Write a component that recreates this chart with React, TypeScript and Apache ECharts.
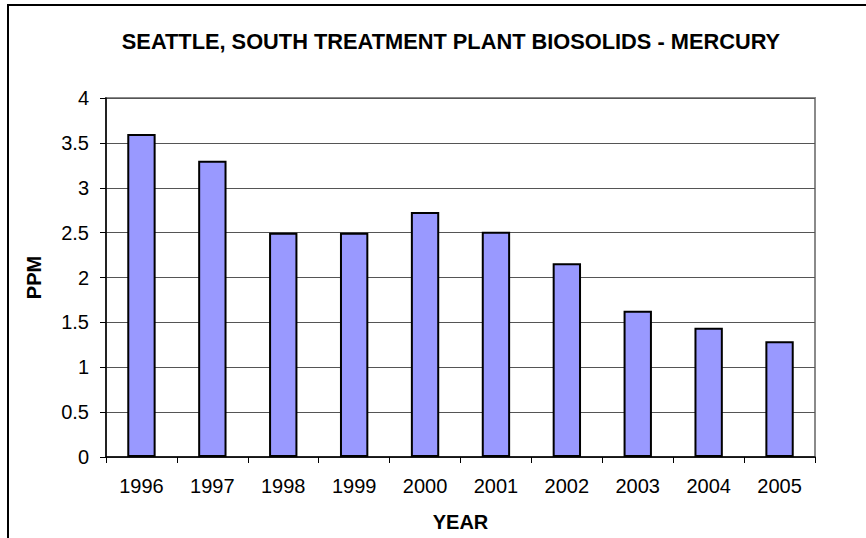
import React, { useEffect, useRef } from "react";
import * as echarts from "echarts";

const years = ["1996", "1997", "1998", "1999", "2000", "2001", "2002", "2003", "2004", "2005"];
const mercuryPpm = [3.6, 3.3, 2.5, 2.5, 2.73, 2.51, 2.16, 1.63, 1.44, 1.29];
const yTicks = { min: 0, max: 4, interval: 0.5 };

const FONT = "'Liberation Sans', Arial, sans-serif";

export default function App() {
  const ref = useRef<HTMLDivElement>(null);
  useEffect(() => {
    if (!ref.current) return;
    const chart = echarts.init(ref.current, null, { renderer: "svg" });
    chart.setOption({
      animation: false,
      backgroundColor: "#ffffff",
      textStyle: { fontFamily: FONT },
      title: {
        text: "SEATTLE, SOUTH TREATMENT PLANT BIOSOLIDS - MERCURY",
        left: 446,
        top: 25,
        textAlign: "center",
        textStyle: { fontFamily: FONT, fontSize: 21.8, fontWeight: "bold", color: "#000" },
      },
      grid: {
        left: 106,
        top: 98,
        width: 709,
        height: 359,
        show: true,
        borderColor: "#8a8a8a",
        borderWidth: 2,
        backgroundColor: "#ffffff",
      },
      xAxis: {
        type: "category",
        data: years,
        name: "YEAR",
        nameLocation: "middle",
        nameGap: 55,
        nameTextStyle: { fontFamily: FONT, fontSize: 20, fontWeight: "bold", color: "#000" },
        axisLine: { lineStyle: { color: "#000", width: 1.5 } },
        axisTick: { show: true, length: 6, lineStyle: { color: "#000" } },
        axisLabel: { fontFamily: FONT, fontSize: 20, color: "#000", margin: 19 },
      },
      yAxis: {
        type: "value",
        min: yTicks.min,
        max: yTicks.max,
        interval: yTicks.interval,
        name: "PPM",
        nameLocation: "middle",
        nameGap: 62,
        nameRotate: 90,
        nameTextStyle: { fontFamily: FONT, fontSize: 20, fontWeight: "bold", color: "#000" },
        axisLine: { show: true, lineStyle: { color: "#000", width: 1.5 } },
        axisTick: { show: true, length: 6, lineStyle: { color: "#000" } },
        axisLabel: { fontFamily: FONT, fontSize: 20, color: "#000", margin: 17 },
        splitLine: { show: true, lineStyle: { color: "#555", width: 1 } },
      },
      series: [
        {
          type: "bar",
          data: mercuryPpm,
          barWidth: "40%",
          itemStyle: { color: "#9999ff", borderColor: "#000", borderWidth: 2 },
        },
      ],
      graphic: [
        { type: "line", shape: { x1: 8, y1: 5, x2: 8, y2: 538 }, style: { stroke: "#000", lineWidth: 2 } },
        { type: "line", shape: { x1: 7, y1: 5, x2: 866, y2: 5 }, style: { stroke: "#000", lineWidth: 2 } },
      ],
    });
    return () => chart.dispose();
  }, []);
  return (
    <div
      ref={ref}
      style={{ position: "fixed", left: 0, top: 0, width: 866, height: 538 }}
    />
  );
}
